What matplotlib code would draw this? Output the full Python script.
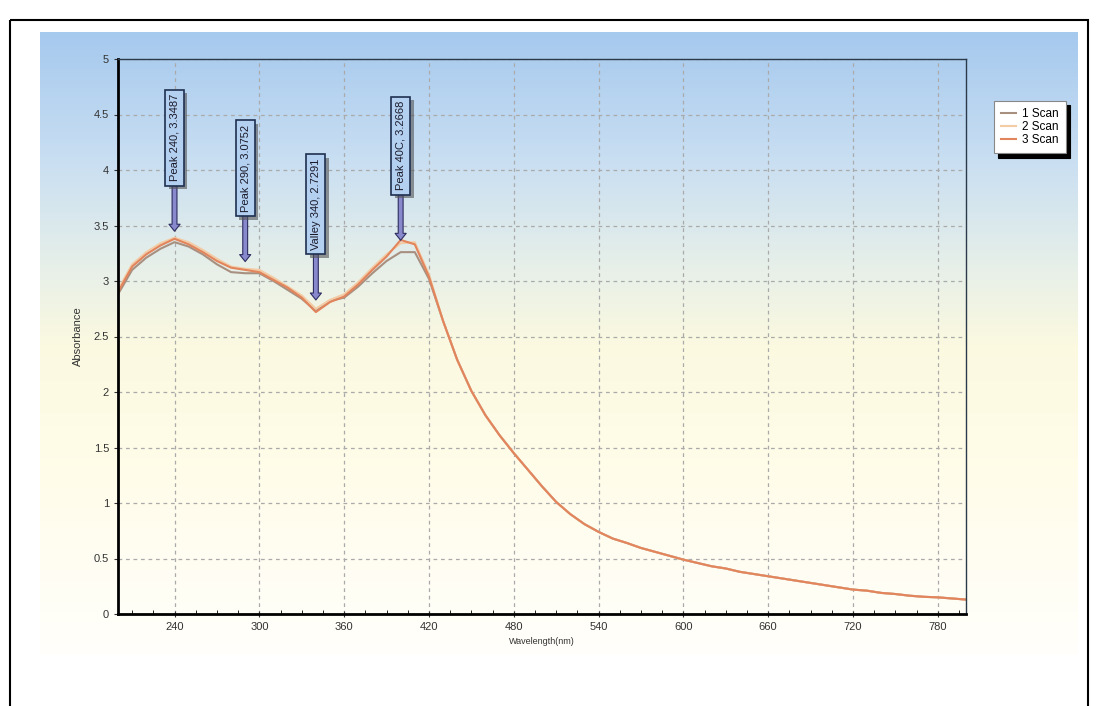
import matplotlib; matplotlib.use('Agg')
import matplotlib.pyplot as plt
from matplotlib.colors import LinearSegmentedColormap
from matplotlib.patches import Rectangle
import matplotlib.transforms as mtransforms
import numpy as np

plt.rcParams['font.family'] = ['Liberation Sans', 'DejaVu Sans']

# ---------- data ----------
wavelength = list(range(200, 810, 10))
scan1_head = [2.88, 3.10, 3.21, 3.29, 3.35, 3.31, 3.24, 3.15, 3.08, 3.07, 3.07,
              3.00, 2.92, 2.84, 2.73, 2.82, 2.85, 2.95, 3.07, 3.18, 3.26, 3.26, 3.02]
scan2_head = [2.92, 3.15, 3.26, 3.34, 3.39, 3.35, 3.28, 3.20, 3.13, 3.11, 3.10,
              3.03, 2.95, 2.87, 2.75, 2.83, 2.88, 2.99, 3.12, 3.24, 3.34, 3.35, 3.06]
scan3_head = [2.90, 3.13, 3.24, 3.32, 3.38, 3.33, 3.26, 3.18, 3.12, 3.10, 3.08,
              3.01, 2.94, 2.85, 2.72, 2.81, 2.86, 2.97, 3.10, 3.22, 3.37, 3.33, 3.04]
# 430..800 nm, all three scans overlap here
tail = [2.64, 2.29, 2.01, 1.79, 1.61, 1.45, 1.30, 1.15, 1.01, 0.90, 0.81, 0.74,
        0.68, 0.64, 0.595, 0.56, 0.525, 0.49, 0.46, 0.43, 0.41, 0.38, 0.36, 0.34,
        0.32, 0.30, 0.28, 0.26, 0.24, 0.22, 0.21, 0.19, 0.18, 0.165, 0.155, 0.15,
        0.14, 0.13]
scans = {'1 Scan': scan1_head + tail, '2 Scan': scan2_head + tail, '3 Scan': scan3_head + tail}
scan_colors = ['#a89080', '#f3cba4', '#e2845c']

marker_labels = ['Peak 240, 3.3487', 'Peak 290, 3.0752', 'Valley 340, 2.7291', 'Peak 40C, 3.2668']
marker_x = [240, 290, 340, 400]
marker_y = [3.3487, 3.0752, 2.7291, 3.2668]

W, H = 1100, 706
fig = plt.figure(figsize=(W/100, H/100), dpi=100)
fig.patch.set_facecolor('white')

# ---------- background: frame + gradient panel ----------
bg = fig.add_axes([0, 0, 1, 1], zorder=0)
bg.set_xlim(0, W); bg.set_ylim(H, 0); bg.axis('off')
cmap = LinearSegmentedColormap.from_list('bg', [(0, '#a6c9ee'), (0.2, '#c8def2'), (0.36, '#e4eeea'),
                                                (0.5, '#fbf9e0'), (0.68, '#fffce8'), (1, '#fffffb')])
grad = np.linspace(0, 1, 256).reshape(-1, 1)
bg.imshow(grad, cmap=cmap, aspect='auto', extent=(40, 1078, 655, 32), interpolation='bicubic')
bg.add_patch(Rectangle((10, 20), 1078, 700, fill=False, ec='black', lw=1.5))

# ---------- main plot ----------
ax = fig.add_axes([118/W, 1-614/H, 848/W, 555/H], zorder=1)
ax.patch.set_alpha(0)
for (name, vals), c in zip(scans.items(), scan_colors):
    ax.plot(wavelength, vals, color=c, lw=1.5, label=name)

ax.set_xlim(200, 800); ax.set_ylim(0, 5)
ax.set_xticks(range(240, 800, 60))
ax.set_xticks(range(210, 800, 15), minor=True)
ax.set_yticks(np.arange(0, 5.01, 0.5))
ax.set_yticklabels(['0', '0.5', '1', '1.5', '2', '2.5', '3', '3.5', '4', '4.5', '5'])
ax.tick_params(axis='both', labelsize=8, colors='#333333', length=3)
ax.tick_params(axis='x', which='minor', direction='in', length=3)
ax.tick_params(axis='x', which='major', direction='inout', length=5)
ax.grid(True, ls=(0, (3, 3)), color='#aaaaaa', lw=0.9)
for s in ['left', 'bottom']:
    ax.spines[s].set_linewidth(2); ax.spines[s].set_color('black')
for s in ['top', 'right']:
    ax.spines[s].set_linewidth(1); ax.spines[s].set_color('#2a3a4a')
ax.set_ylabel('Absorbance', fontsize=8, color='#333333', labelpad=8)
ax.set_xlabel('Wavelength(nm)', fontsize=6.5, color='#333333', labelpad=3)

# peak / valley markers
shadow = mtransforms.offset_copy(ax.transData, fig=fig, x=2.5, y=-2.5, units='points')
for lab, x, y in zip(marker_labels, marker_x, marker_y):
    tip = y + 0.1
    top = tip + 0.45
    ax.annotate('', xy=(x, tip), xytext=(x, top),
                arrowprops=dict(arrowstyle='simple,head_width=0.8,head_length=0.5,tail_width=0.35',
                                fc='#8888cc', ec='#2c2c60', lw=0.8, shrinkA=0, shrinkB=0), zorder=4)
    ax.text(x, top, lab, rotation=90, ha='center', va='bottom', fontsize=8, color='#333333',
            transform=shadow, alpha=0,
            bbox=dict(boxstyle='square,pad=0.4', fc='#555555', ec='none', alpha=0.6), zorder=4)
    ax.text(x, top, lab, rotation=90, ha='center', va='bottom', fontsize=8, color='#1a1a2a',
            bbox=dict(boxstyle='square,pad=0.4', fc='#b4d0f0', ec='#1f3050', lw=1.2), zorder=5)

leg = fig.legend(loc='upper left', bbox_to_anchor=(988/W, 1-95/H), fontsize=8.5, frameon=True,
                 fancybox=False, shadow={'color': 'black', 'alpha': 1, 'ox': 3, 'oy': -3},
                 handlelength=1.3, handletextpad=0.5, labelspacing=0.1, borderpad=0.6)
leg.get_frame().set_edgecolor('#888888'); leg.get_frame().set_linewidth(0.8)

plt.savefig('out.png', dpi=100)
